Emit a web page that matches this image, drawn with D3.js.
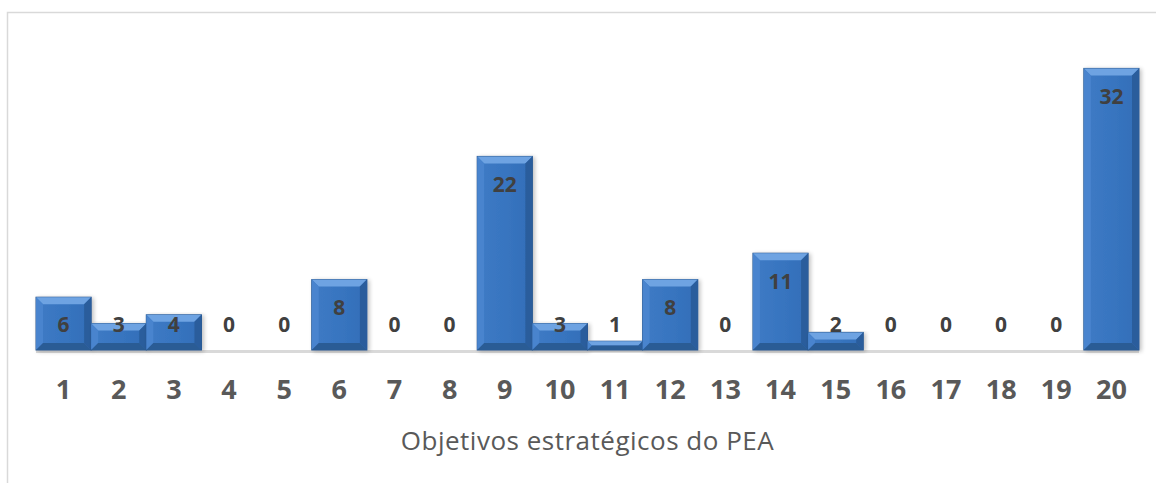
<!DOCTYPE html>
<html>
<head>
<meta charset="utf-8">
<script src="https://cdnjs.cloudflare.com/ajax/libs/d3/7.8.5/d3.min.js"></script>
<style>
  body { margin: 0; background: #fff; }
  svg { display: block; }
</style>
</head>
<body>
<div id="chart"></div>
<script>
const categories = ['1','2','3','4','5','6','7','8','9','10','11','12','13','14','15','16','17','18','19','20'];
const values = [6, 3, 4, 0, 0, 8, 0, 0, 22, 3, 1, 8, 0, 11, 2, 0, 0, 0, 0, 32];
const axisTitle = 'Objetivos estratégicos do PEA';

const width = 1156;
const height = 483;

const svg = d3.select('#chart').append('svg')
  .attr('width', width)
  .attr('height', height);

// chart frame (only top and left edges are in view)
svg.append('path')
  .attr('d', `M7.5,${height}L7.5,12.5L${width},12.5`)
  .attr('fill', 'none')
  .attr('stroke', '#d9d9d9')
  .attr('stroke-width', 1.5);

const x = d3.scaleBand()
  .domain(categories)
  .range([36, 1139])
  .padding(0);

const y = d3.scaleLinear()
  .domain([0, 35])
  .range([350, 42]);

const defs = svg.append('defs');
const grad = defs.append('linearGradient')
  .attr('id', 'barGrad')
  .attr('x1', 0).attr('x2', 1).attr('y1', 0).attr('y2', 0);
grad.append('stop').attr('offset', '0%').attr('stop-color', '#3e7bc5');
grad.append('stop').attr('offset', '50%').attr('stop-color', '#3875c0');
grad.append('stop').attr('offset', '100%').attr('stop-color', '#326eb8');

const shadow = defs.append('filter').attr('id', 'shadow')
  .attr('x', '-10%').attr('y', '-10%').attr('width', '130%').attr('height', '130%');
shadow.append('feGaussianBlur').attr('in', 'SourceAlpha').attr('stdDeviation', 2);
shadow.append('feOffset').attr('dx', 2).attr('dy', 1).attr('result', 'blur');
shadow.append('feComponentTransfer').append('feFuncA').attr('type', 'linear').attr('slope', 0.25);
const merge = shadow.append('feMerge');
merge.append('feMergeNode');
merge.append('feMergeNode').attr('in', 'SourceGraphic');

// baseline
svg.append('line')
  .attr('x1', x.range()[0]).attr('x2', x.range()[1])
  .attr('y1', y(0) + 1.5).attr('y2', y(0) + 1.5)
  .attr('stroke', '#d9d9d9')
  .attr('stroke-width', 3);

const data = categories.map((c, i) => ({cat: c, value: values[i]}));

const bars = svg.append('g').selectAll('g')
  .data(data.filter(d => d.value > 0))
  .join('g')
  .attr('filter', 'url(#shadow)');

bars.each(function(d) {
  const g = d3.select(this);
  const x0 = x(d.cat), x1 = x0 + x.bandwidth();
  const y0 = y(d.value), y1 = y(0);
  const b = Math.min(7, (y1 - y0) / 2);
  g.append('rect')
    .attr('x', x0).attr('y', y0)
    .attr('width', x1 - x0).attr('height', y1 - y0)
    .attr('fill', 'url(#barGrad)')
    .attr('stroke', '#28578f')
    .attr('stroke-width', 1);
  const poly = (pts, fill) => g.append('polygon')
    .attr('points', pts.map(p => p.join(',')).join(' '))
    .attr('fill', fill);
  poly([[x0, y0], [x1, y0], [x1 - b, y0 + b], [x0 + b, y0 + b]], '#6ea3e2');
  poly([[x0, y0], [x0 + b, y0 + b], [x0 + b, y1 - b], [x0, y1]], '#4884ce');
  poly([[x1, y0], [x1, y1], [x1 - b, y1 - b], [x1 - b, y0 + b]], '#2a5d9c');
  poly([[x0, y1], [x0 + b, y1 - b], [x1 - b, y1 - b], [x1, y1]], '#2c5b95');
});

// value labels
svg.append('g').selectAll('text')
  .data(data)
  .join('text')
  .attr('x', d => x(d.cat) + x.bandwidth() / 2)
  .attr('y', d => Math.min(y(d.value) + 28, 325))
  .attr('dy', '0.35em')
  .attr('text-anchor', 'middle')
  .attr('font-family', 'Open Sans, sans-serif')
  .attr('font-weight', 'bold')
  .attr('font-size', 21)
  .attr('fill', '#404040')
  .text(d => d.value);

// category axis
const xAxis = svg.append('g')
  .attr('transform', `translate(0,${y(0)})`)
  .call(d3.axisBottom(x).tickSize(0).tickPadding(0));
xAxis.select('.domain').remove();
xAxis.selectAll('text')
  .attr('y', 40)
  .attr('dy', '0.35em')
  .attr('font-family', 'Open Sans, sans-serif')
  .attr('font-weight', 'bold')
  .attr('font-size', 27)
  .attr('fill', '#595959');

svg.append('text')
  .attr('x', (x.range()[0] + x.range()[1]) / 2)
  .attr('y', 441)
  .attr('dy', '0.35em')
  .attr('text-anchor', 'middle')
  .attr('font-family', 'Open Sans, sans-serif')
  .attr('font-size', 26)
  .attr('letter-spacing', 0.5)
  .attr('fill', '#595959')
  .text(axisTitle);
</script>
</body>
</html>
